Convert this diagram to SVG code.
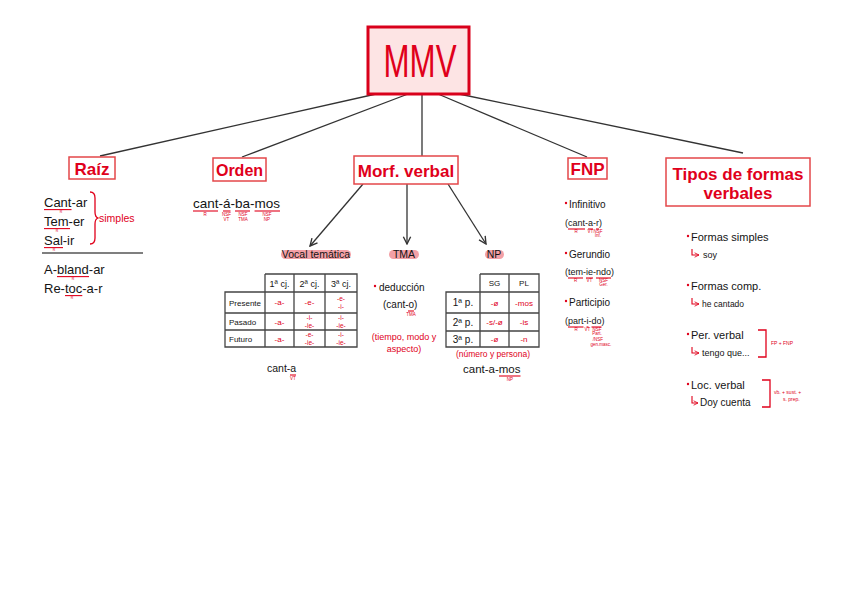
<svg xmlns="http://www.w3.org/2000/svg" width="848" height="599" viewBox="0 0 848 599">
<style>
text{font-family:"Liberation Sans",Arial,sans-serif;fill:#141414}
.t{fill:#e0001b;font-weight:bold;font-size:17px;text-anchor:middle}
.box{fill:#fff;stroke:#e4474a;stroke-width:1.5}
.r{fill:#e0001b}
.c{text-anchor:middle}
.ul{stroke:#e0001b;stroke-width:1.1;fill:none}
.lb{fill:#e0001b;font-size:4.5px;text-anchor:middle}
.lr{fill:#e0001b;font-size:3.5px;text-anchor:middle}
.rz{font-size:13px}
.con{stroke:#333;stroke-width:1.3;fill:none}
.tb{stroke:#444;stroke-width:1.3;fill:none}
.hl{fill:#f3a0a6}
.rc{fill:#e0001b;font-size:8px;text-anchor:middle}
.rc2{fill:#e0001b;font-size:6.5px;text-anchor:middle}
</style>
<defs>
<marker id="ah" viewBox="0 0 10 10" refX="9" refY="5" markerWidth="7" markerHeight="7" orient="auto-start-reverse">
<path d="M1,1 L9,5 L1,9" fill="none" stroke="#333" stroke-width="1.5"/>
</marker>
<marker id="hk" viewBox="0 0 10 10" refX="9" refY="5" markerWidth="5" markerHeight="5" orient="auto">
<path d="M1,1 L9,5 L1,9" fill="none" stroke="#e0001b" stroke-width="1.5"/>
</marker>
</defs>
<rect width="848" height="599" fill="#fff"/>

<g id="connectors">
<line class="con" x1="376" y1="94" x2="100" y2="156"/>
<line class="con" x1="408" y1="94" x2="242" y2="157"/>
<line class="con" x1="422" y1="94" x2="422" y2="156"/>
<line class="con" x1="438" y1="94" x2="587" y2="157"/>
<line class="con" x1="459" y1="94" x2="743" y2="153"/>
<line class="con" x1="363" y1="184" x2="310" y2="246" marker-end="url(#ah)"/>
<line class="con" x1="407" y1="184" x2="407" y2="244" marker-end="url(#ah)"/>
<line class="con" x1="448" y1="184" x2="486" y2="244" marker-end="url(#ah)"/>
</g>

<g id="node-mmv">
<rect x="368" y="27" width="101" height="67" fill="#fde4e4" stroke="#d9001b" stroke-width="3"/>
<text x="420" y="77" class="c" style="fill:#e0001b;font-size:46px" textLength="73" lengthAdjust="spacingAndGlyphs">MMV</text>
</g>

<g id="node-raiz">
<rect class="box" x="69" y="157" width="46" height="22"/>
<text class="t" x="92" y="175">Raíz</text>
<text class="rz" x="44" y="207">Cant-ar</text>
<line class="ul" x1="44" y1="209.6" x2="71.5" y2="209.6"/>
<text class="lr" x="61" y="213.2">R</text>
<text class="rz" x="44" y="226">Tem-er</text>
<line class="ul" x1="44" y1="228.6" x2="70" y2="228.6"/>
<text class="lr" x="57" y="232.1">R</text>
<text class="rz" x="44" y="245">Sal-ir</text>
<line class="ul" x1="44" y1="247.6" x2="63" y2="247.6"/>
<text class="lr" x="54" y="251.1">R</text>
<path d="M90,192 Q95,192 95,198 V212 Q95,217 98,218 Q95,219 95,224 V238 Q95,244 90,244" fill="none" stroke="#e0001b" stroke-width="1.3"/>
<text class="r" x="99" y="222" style="font-size:10.5px">simples</text>
<line x1="42" y1="253" x2="143" y2="253" stroke="#555" stroke-width="1.3"/>
<text class="rz" x="44" y="274">A-bland-ar</text>
<line class="ul" x1="57" y1="276.6" x2="89" y2="276.6"/>
<text class="lr" x="73" y="280.1">R</text>
<text class="rz" x="44" y="293">Re-toc-a-r</text>
<line class="ul" x1="65" y1="295.6" x2="82.3" y2="295.6"/>
<text class="lr" x="72" y="299.1">R</text>
</g>

<g id="node-orden">
<rect class="box" x="213" y="158" width="53" height="23"/>
<text class="t" x="239.5" y="176" style="font-size:16px">Orden</text>
<text x="193" y="208" style="font-size:13.5px">cant-á-ba-mos</text>
<line class="ul" x1="193" y1="211" x2="218" y2="211"/>
<line class="ul" x1="223" y1="211" x2="230.5" y2="211"/>
<line class="ul" x1="235" y1="211" x2="250" y2="211"/>
<line class="ul" x1="254.5" y1="211" x2="280" y2="211"/>
<text class="lb" x="205" y="216">R</text>
<text class="lb" x="226.5" y="216">NSF</text><text class="lb" x="226.5" y="221">VT</text>
<text class="lb" x="243" y="216">NSF</text><text class="lb" x="243" y="221">TMA</text>
<text class="lb" x="267" y="216">NSF</text><text class="lb" x="267" y="221">NP</text>
</g>

<g id="node-morf">
<rect class="box" x="354" y="156" width="104" height="28"/>
<text class="t" x="406" y="177">Morf. verbal</text>
</g>

<g id="node-vocal">
<rect class="hl" x="281" y="250" width="70" height="9" rx="4.5"/>
<text x="316" y="258" class="c" style="font-size:10.5px">Vocal temática</text>
<path class="tb" d="M265,274 H357 V347 H225 V292 H357 M265,274 V347 M294,274 V347 M325,274 V347 M225,313 H357 M225,330 H357"/>
<text x="279.5" y="287" class="c" style="font-size:9px">1ª cj.</text>
<text x="309.5" y="287" class="c" style="font-size:9px">2ª cj.</text>
<text x="341" y="287" class="c" style="font-size:9px">3ª cj.</text>
<text x="229" y="306" style="font-size:8px">Presente</text>
<text x="229" y="325" style="font-size:8px">Pasado</text>
<text x="229" y="342" style="font-size:8px">Futuro</text>
<text class="rc" x="279.5" y="305">-a-</text>
<text class="rc" x="309.5" y="305">-e-</text>
<text class="rc2" x="341" y="301">-e-</text><text class="rc2" x="341" y="309">-i-</text>
<text class="rc" x="279.5" y="324.5">-a-</text>
<text class="rc2" x="309.5" y="320">-i-</text><text class="rc2" x="309.5" y="327.5">-ie-</text>
<text class="rc2" x="341" y="320">-i-</text><text class="rc2" x="341" y="327.5">-ie-</text>
<text class="rc" x="279.5" y="341.5">-a-</text>
<text class="rc2" x="309.5" y="337">-e-</text><text class="rc2" x="309.5" y="344.5">-ie-</text>
<text class="rc2" x="341" y="337">-i-</text><text class="rc2" x="341" y="344.5">-ie-</text>
<text x="267" y="372" style="font-size:10.5px">cant-a</text>
<line class="ul" x1="290" y1="375" x2="296" y2="375"/>
<text class="lb" x="293" y="380">VT</text>
</g>

<g id="node-tma">
<rect class="hl" x="389" y="250" width="30" height="9" rx="4.5"/>
<text x="404" y="258" class="c" style="font-size:10.5px">TMA</text>
<circle cx="375" cy="286" r="1.2" fill="#e0001b"/>
<text x="379" y="291" style="font-size:10px">deducción</text>
<text x="383" y="308" style="font-size:10px">(cant-o)</text>
<line class="ul" x1="408" y1="311" x2="414" y2="311"/>
<text class="lb" x="411" y="316">TMA</text>
<text class="r c" x="404" y="340" style="font-size:9px">(tiempo, modo y</text>
<text class="r c" x="404" y="352" style="font-size:9px">aspecto)</text>
</g>

<g id="node-np">
<rect class="hl" x="485" y="250" width="19" height="9" rx="4.5"/>
<text x="494" y="258" class="c" style="font-size:10.5px">NP</text>
<path class="tb" d="M480,274 H539 V347 H446 V292 H539 M480,274 V347 M509,274 V347 M446,313 H539 M446,331 H539"/>
<text x="494.5" y="286" class="c" style="font-size:8px">SG</text>
<text x="524" y="286" class="c" style="font-size:8px">PL</text>
<text x="463" y="306" class="c" style="font-size:10px">1ª p.</text>
<text x="463" y="326" class="c" style="font-size:10px">2ª p.</text>
<text x="463" y="343" class="c" style="font-size:10px">3ª p.</text>
<text class="rc" x="494.5" y="305.5">-ø</text>
<text class="rc" x="524" y="305.5">-mos</text>
<text class="rc" x="494.5" y="325">-s/-ø</text>
<text class="rc" x="524" y="325">-is</text>
<text class="rc" x="494.5" y="342">-ø</text>
<text class="rc" x="524" y="342">-n</text>
<text class="r c" x="493" y="357" style="font-size:8.5px">(número y persona)</text>
<text x="463" y="373" style="font-size:11.5px">cant-a-mos</text>
<line class="ul" x1="499" y1="376" x2="520.5" y2="376"/>
<text class="lb" x="510" y="381">NP</text>
</g>

<g id="node-fnp">
<rect class="box" x="568" y="158" width="39" height="21"/>
<text class="t" x="587.5" y="175">FNP</text>
<circle cx="566" cy="203" r="1.2" fill="#e0001b"/>
<text x="569" y="208" style="font-size:10px">Infinitivo</text>
<text x="565" y="226" style="font-size:9px">(cant-a-r)</text>
<line class="ul" x1="568" y1="229" x2="585" y2="229"/>
<line class="ul" x1="588" y1="229" x2="593" y2="229"/>
<line class="ul" x1="596" y1="229" x2="599" y2="229"/>
<text class="lb" x="576" y="233">R</text>
<text class="lb" x="590.5" y="233">VT</text>
<text class="lb" x="598" y="233">NSF</text><text class="lb" x="598" y="237">Inf.</text>
<circle cx="566" cy="253" r="1.2" fill="#e0001b"/>
<text x="569" y="258" style="font-size:10px">Gerundio</text>
<text x="565" y="275" style="font-size:9px">(tem-ie-ndo)</text>
<line class="ul" x1="568" y1="278" x2="583" y2="278"/>
<line class="ul" x1="586" y1="278" x2="593" y2="278"/>
<line class="ul" x1="596" y1="278" x2="611" y2="278"/>
<text class="lb" x="575.5" y="282">R</text>
<text class="lb" x="589.5" y="282">VT</text>
<text class="lb" x="603.5" y="282">NSF</text><text class="lb" x="603.5" y="286">Ger.</text>
<circle cx="566" cy="301" r="1.2" fill="#e0001b"/>
<text x="569" y="306" style="font-size:10px">Participio</text>
<text x="565" y="324" style="font-size:9px">(part-i-do)</text>
<line class="ul" x1="568" y1="327" x2="583.5" y2="327"/>
<line class="ul" x1="586.5" y1="327" x2="588.5" y2="327"/>
<line class="ul" x1="591.5" y1="327" x2="601.5" y2="327"/>
<text class="lb" x="576" y="331">R</text>
<text class="lb" x="587.5" y="331">VT</text>
<text class="lb" x="597" y="331">NSF</text><text class="lb" x="597" y="335">Part.</text>
<text class="lb" x="598" y="341">/NSF</text>
<text class="lb" x="601" y="346">gen.masc.</text>
</g>

<g id="node-tipos">
<rect class="box" x="666" y="158" width="144" height="48"/>
<text class="t" x="738" y="180">Tipos de formas</text>
<text class="t" x="738" y="199">verbales</text>
<circle cx="688" cy="236" r="1.2" fill="#e0001b"/>
<text x="691" y="241" style="font-size:11px">Formas simples</text>
<path d="M692,249 V255 H699" class="ul" marker-end="url(#hk)"/>
<text x="703" y="258" style="font-size:9px">soy</text>
<circle cx="688" cy="285" r="1.2" fill="#e0001b"/>
<text x="691" y="290" style="font-size:11px">Formas comp.</text>
<path d="M692,298 V304 H699" class="ul" marker-end="url(#hk)"/>
<text x="702" y="307" style="font-size:8.5px">he cantado</text>
<circle cx="688" cy="334" r="1.2" fill="#e0001b"/>
<text x="691" y="339" style="font-size:11px">Per. verbal</text>
<path d="M692,347 V353 H699" class="ul" marker-end="url(#hk)"/>
<text x="702" y="356" style="font-size:9px">tengo que...</text>
<path d="M758,330 H766 V357 H758" fill="none" stroke="#e0001b" stroke-width="1.3"/>
<text x="771" y="345" class="r" style="font-size:5px">FP + FNP</text>
<circle cx="688" cy="384" r="1.2" fill="#e0001b"/>
<text x="691" y="389" style="font-size:11px">Loc. verbal</text>
<path d="M692,396 V403 H698" class="ul" marker-end="url(#hk)"/>
<text x="700" y="406" style="font-size:10px">Doy cuenta</text>
<path d="M762,380 H770 V407 H762" fill="none" stroke="#e0001b" stroke-width="1.3"/>
<text x="774" y="394" class="r" style="font-size:5px">vb. + sust. +</text>
<text x="783" y="401" class="r" style="font-size:5px">s. prep.</text>
</g>
</svg>
